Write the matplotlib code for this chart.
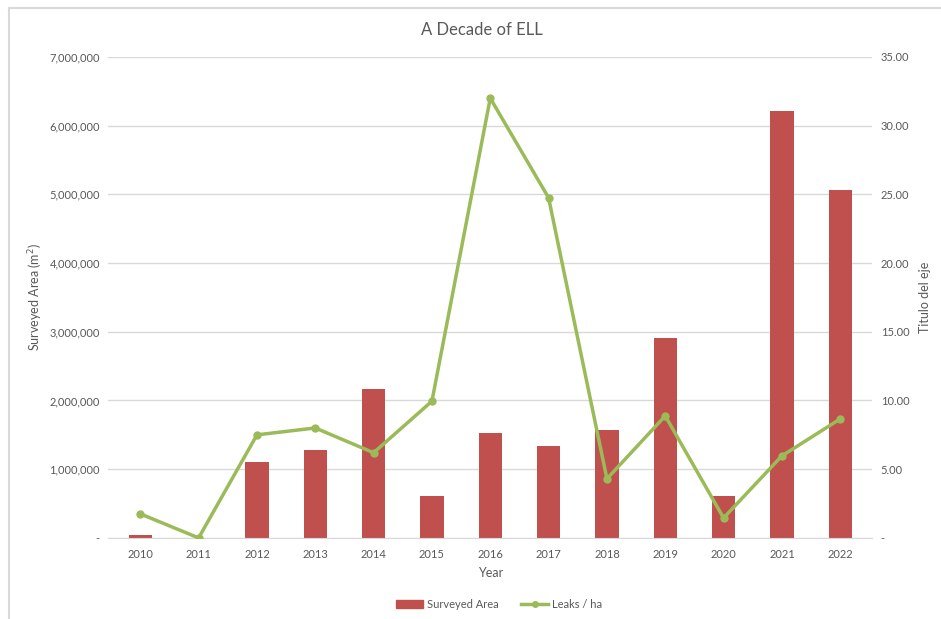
import matplotlib.pyplot as plt
from matplotlib.lines import Line2D
from matplotlib.ticker import FuncFormatter

plt.rcParams['font.family'] = ['Lato', 'DejaVu Sans']

years = ['2010', '2011', '2012', '2013', '2014', '2015', '2016',
         '2017', '2018', '2019', '2020', '2021', '2022']
surveyed_area = [40000, 0, 1100000, 1280000, 2170000, 610000, 1530000,
                 1340000, 1570000, 2910000, 610000, 6210000, 5070000]
leaks_per_ha = [1.75, 0.0, 7.5, 8.0, 6.2, 9.95, 32.0,
                24.75, 4.3, 8.88, 1.45, 5.97, 8.66]

TEXT = '#595959'
GRID = '#d9d9d9'
BAR = '#c0504d'
LINE = '#9bbb59'


def left_fmt(v, pos):
    return '-' if v == 0 else f'{v:,.0f}'


def right_fmt(v, pos):
    return '-' if v == 0 else f'{v:.2f}'


fig = plt.figure(figsize=(9.41, 6.19), dpi=100)
ax = fig.add_axes([0.115, 0.131, 0.812, 0.777])
ax2 = ax.twinx()

x = range(len(years))
ax.bar(x, surveyed_area, width=0.4, color=BAR, zorder=2)
ax2.plot(x, leaks_per_ha, color=LINE, lw=2.5, marker='o', ms=5, zorder=3)

ax.set_xlim(-0.55, len(years) - 0.45)
ax.set_ylim(0, 7000000)
ax2.set_ylim(0, 35)
ax.set_yticks(range(0, 7000001, 1000000))
ax2.set_yticks(range(0, 36, 5))
ax.yaxis.set_major_formatter(FuncFormatter(left_fmt))
ax2.yaxis.set_major_formatter(FuncFormatter(right_fmt))
ax.set_xticks(list(x))
ax.set_xticklabels(years)

ax.grid(axis='y', color=GRID, lw=1, zorder=0)
ax.set_axisbelow(True)
for a in (ax, ax2):
    for s in ('top', 'right', 'left'):
        a.spines[s].set_visible(False)
    a.spines['bottom'].set_color(GRID)
    a.tick_params(length=0, labelsize=8, colors=TEXT, pad=6)
ax2.spines['bottom'].set_visible(False)
ax.tick_params(axis='x', pad=8)

ax.set_ylabel('Surveyed Area (m$^2$)', color=TEXT, fontsize=9, labelpad=3)
ax2.set_ylabel('Titulo del eje', color=TEXT, fontsize=9, labelpad=7)
ax.set_xlabel('Year', color=TEXT, fontsize=9, labelpad=5)
fig.text(0.512, 0.951, 'A Decade of ELL', ha='center', va='center',
         color=TEXT, fontsize=12)

handles = [plt.Rectangle((0, 0), 1, 1, color=BAR),
           Line2D([0], [0], color=LINE, lw=2.5, marker='o', ms=4)]
fig.legend(handles, ['Surveyed Area', 'Leaks / ha'], loc='center',
           bbox_to_anchor=(0.53, 0.024), ncol=2, frameon=False,
           fontsize=8, labelcolor=TEXT, handlelength=2.5,
           handletextpad=0.3, columnspacing=2)

# chart frame edges visible in the reference
fig.add_artist(Line2D([0.0096, 0.0096], [0, 0.987], color='#d9d9d9', lw=1.5))
fig.add_artist(Line2D([0.0096, 1], [0.987, 0.987], color='#d9d9d9', lw=1.5))

fig.savefig('out.png', dpi=100)
